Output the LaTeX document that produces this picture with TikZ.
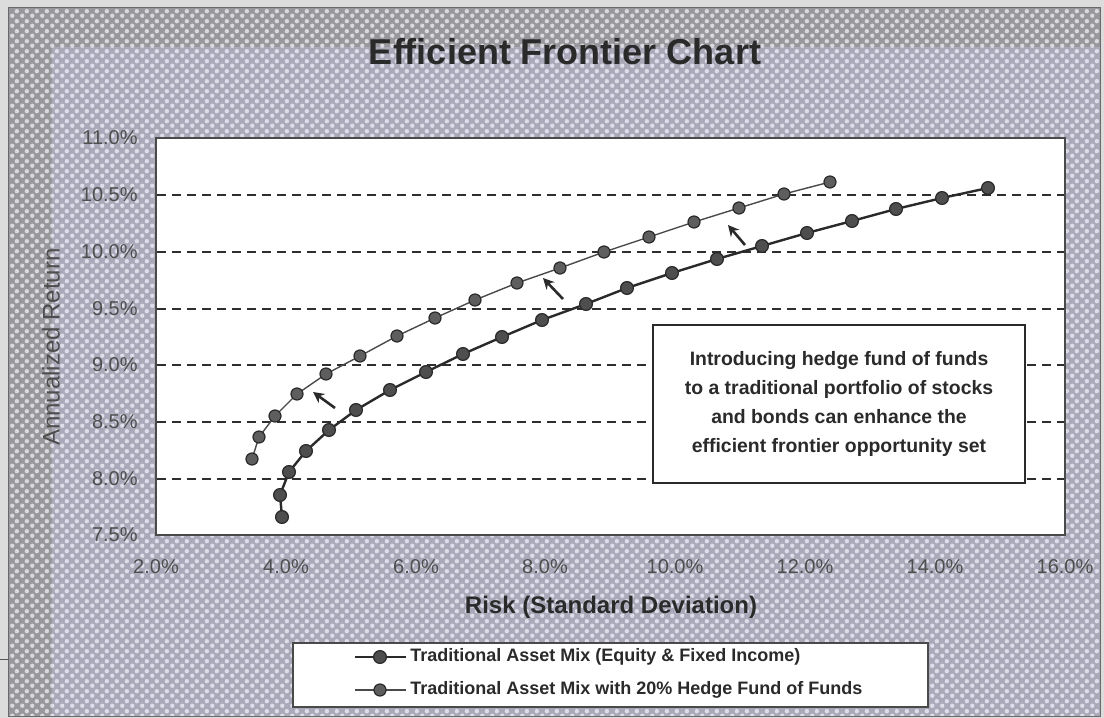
\documentclass[tikz,border=0pt]{standalone}
\usepackage{fontspec}
\setmainfont{Liberation Sans}
\usetikzlibrary{patterns.meta,arrows.meta}
\definecolor{edgepale}{HTML}{DCDCDC}
\definecolor{bandbase}{HTML}{98989C}
\definecolor{bandspot}{HTML}{DADADE}
\definecolor{areabase}{HTML}{A9A9BA}
\definecolor{areaspot}{HTML}{DEDEEA}
\definecolor{ink}{HTML}{2A2A2A}
\definecolor{tickink}{HTML}{4E4E4E}
\definecolor{gridink}{HTML}{2E2E2E}
\definecolor{tradfill}{HTML}{4E4E4E}
\definecolor{hffill}{HTML}{5E5E5E}

\tikzdeclarepattern{
  name=scandots,
  type=uncolored,
  bounding box={(0pt,0pt) and (5pt,5pt)},
  tile size={(5pt,5pt)},
  code={
    \fill (1.25pt,1.25pt) circle (1.2pt);
    \fill (3.75pt,3.75pt) circle (1.2pt);
  }
}

\begin{document}
\begin{tikzpicture}[x=0.5pt,y=-0.5pt,
  ticklbl/.style={font=\fontsize{10}{12}\selectfont, text=tickink, inner sep=0pt},
  gridline/.style={draw=gridink, line width=0.9pt, dash pattern=on 4.5pt off 3pt},
  tradline/.style={draw=ink, line width=1.2pt},
  hfline/.style={draw=ink!85, line width=0.7pt},
  tradmark/.style={circle, inner sep=0pt, minimum size=6.4pt, fill=tradfill, draw=ink, line width=0.6pt},
  hfmark/.style={circle, inner sep=0pt, minimum size=6pt, fill=hffill, draw=ink, line width=0.6pt},
  pointer/.style={draw=ink, line width=1.3pt, -{Stealth[length=5.5pt,width=5.5pt]}},
  boldtxt/.style={font=\fontsize{9.7}{14.6}\selectfont\bfseries, text=ink},
  legtxt/.style={font=\fontsize{9}{11}\selectfont\bfseries, text=ink, inner sep=0pt, anchor=west},
]
\useasboundingbox (0,0) rectangle (1104,718);

% background
\fill[edgepale] (0,0) rectangle (1104,718);
\fill[bandbase] (8,7) rectangle (1100,716);
\fill[pattern={scandots}, pattern color=bandspot] (8,7) rectangle (1100,716);
\fill[areabase] (52,47) rectangle (1100,716);
\fill[pattern={scandots}, pattern color=areaspot] (52,47) rectangle (1100,716);
\draw[ink!70, line width=0.5pt] (8,7) rectangle (1100,716);
\coordinate (stubA) at (0,659);
\coordinate (stubB) at (9,659);
\draw[ink!80, line width=0.5pt] (stubA) -- (stubB);

% title
\node[font=\fontsize{18}{20}\selectfont\bfseries, text=ink, inner sep=0pt] (title) at (565,52) {Efficient Frontier Chart};

% plot area
\draw[fill=white, draw=ink!85, line width=0.7pt] (156,138) rectangle (1065,535);
\foreach \y in {195,252,309,365,422,479}
  \draw[gridline] (157,\y) -- (1064,\y);

% y tick labels
\foreach \v/\y [count=\i] in {11.0/138,10.5/195,10.0/252,9.5/309,9.0/365,8.5/422,8.0/479,7.5/535}
  \node[ticklbl, anchor=east] (yt\i) at (138,\y) {\v\%};
% x tick labels
\foreach \v/\x [count=\i] in {2.0/156,4.0/286,6.0/416,8.0/545,10.0/675,12.0/805,14.0/935,16.0/1065}
  \node[ticklbl] (xt\i) at (\x,567) {\v\%};

% axis titles
\node[font=\fontsize{12}{14}\selectfont\bfseries, text=ink, inner sep=0pt] (xtitle) at (611,607) {Risk (Standard Deviation)};
\node[font=\fontsize{12}{14}\selectfont, text=tickink, inner sep=0pt, rotate=90] (ytitle) at (51,347) {Annualized Return};

% annotation box
\node[draw=ink, line width=0.8pt, fill=white, minimum width=186pt, minimum height=79pt, align=center, boldtxt] (note) at (839,404)
  {Introducing hedge fund of funds\\to a traditional portfolio of stocks\\and bonds can enhance the\\efficient frontier opportunity set};

% traditional curve
\foreach \x/\y [count=\i] in {282/517,280/495,289/472,306/451,329/430,356/410,390/390,426/372,463/354,502/337,542/320,586/304,627/288,672/273,717/259,762/246,807/233,852/221,896/209,942/198,988/188}
  \coordinate (t\i) at (\x,\y);
\draw[tradline] (t1) \foreach \i in {2,...,21} { -- (t\i) };
\foreach \i in {1,...,21}
  \node[tradmark] (tm\i) at (t\i) {};

% hedge fund curve
\foreach \x/\y [count=\i] in {252/459,259/437,275/416,297/394,326/374,360/356,397/336,435/318,475/300,517/283,560/268,604/252,649/237,694/222,739/208,784/194,830/182}
  \coordinate (h\i) at (\x,\y);
\draw[hfline] (h1) \foreach \i in {2,...,17} { -- (h\i) };
\foreach \i in {1,...,17}
  \node[hfmark] (hm\i) at (h\i) {};

% pointers
\coordinate (p1s) at (335,408); \coordinate (p1e) at (313,392);
\coordinate (p2s) at (563,299); \coordinate (p2e) at (543,278);
\coordinate (p3s) at (745,245); \coordinate (p3e) at (728,225);
\draw[pointer] (p1s) -- (p1e);
\draw[pointer] (p2s) -- (p2e);
\draw[pointer] (p3s) -- (p3e);

% legend
\node[draw=ink!85, line width=0.6pt, fill=white, minimum width=317.5pt, minimum height=32pt, inner sep=0pt] (legend) at (610.5,675) {};
\coordinate (l1a) at (355,657); \coordinate (l1b) at (406,657);
\coordinate (l2a) at (355,690); \coordinate (l2b) at (406,690);
\draw[tradline] (l1a) -- (l1b);
\node[tradmark] (lm1) at (380,657) {};
\draw[hfline] (l2a) -- (l2b);
\node[hfmark] (lm2) at (380,690) {};
\node[legtxt] (lt1) at (410,657) {Traditional Asset Mix (Equity \& Fixed Income)};
\node[legtxt] (lt2) at (410,690) {Traditional Asset Mix with 20\% Hedge Fund of Funds};
\end{tikzpicture}
\end{document}
